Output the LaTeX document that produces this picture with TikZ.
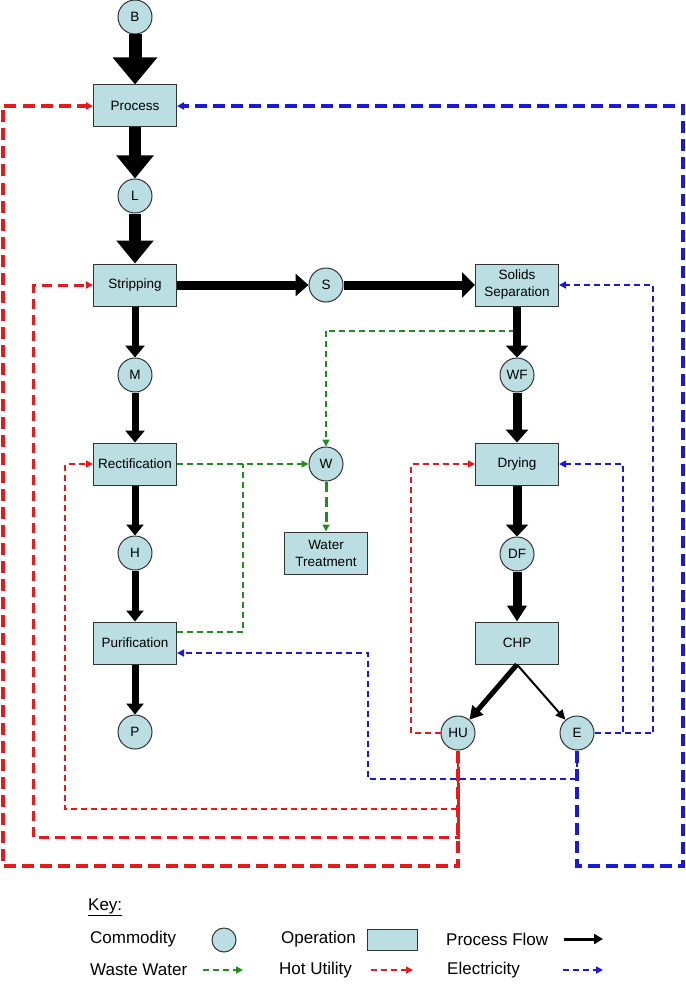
\documentclass[tikz,border=0pt]{standalone}
\usepackage{fontspec}
\setmainfont{Liberation Sans}
\usetikzlibrary{arrows.meta,calc}
\definecolor{nodefill}{RGB}{186,222,226}
\definecolor{hotred}{RGB}{228,26,28}
\definecolor{elblue}{RGB}{25,25,215}
\definecolor{wwgreen}{RGB}{34,139,34}
\newcommand{\nfnt}{\fontsize{13.5}{17}\selectfont}
\newcommand{\kfnt}{\fontsize{17}{20}\selectfont}
\tikzset{
  op/.style={draw=black!80, line width=1pt, fill=nodefill, minimum width=83pt, minimum height=42pt, inner sep=0pt, align=center, font=\nfnt},
  com/.style={circle, draw=black!80, line width=1pt, fill=nodefill, minimum size=34pt, inner sep=0pt, font=\nfnt},
  flow/.style n args={3}{draw=black, line width=#1pt, -{Triangle[length=#2pt,width=#3pt]}},
  dtip/.style={-{Triangle[length=7pt,width=7pt]}},
  hotthick/.style={draw=hotred, line width=3.5pt, dash pattern=on 12pt off 6pt},
  hotmed/.style={draw=hotred, line width=3pt, dash pattern=on 10pt off 6pt},
  hotthin/.style={draw=hotred, line width=1.6pt, dash pattern=on 6pt off 4pt},
  elthick/.style={draw=elblue, line width=3.5pt, dash pattern=on 12pt off 6pt},
  elthin/.style={draw=elblue, line width=1.6pt, dash pattern=on 6pt off 4pt},
  wwthin/.style={draw=wwgreen, line width=1.6pt, dash pattern=on 6pt off 4pt},
  wwthick/.style={draw=wwgreen, line width=3pt, dash pattern=on 10pt off 5pt},
  keytext/.style={anchor=west, inner sep=0pt, font=\kfnt},
}
\begin{document}
\begin{tikzpicture}[x=1pt,y=-1pt]
\useasboundingbox (0,0) rectangle (685,987);
% nodes
\node[com] (B) at (135,17) {B};
\node[op] (Process) at (135,106) {Process};
\node[com] (L) at (135,196) {L};
\node[op] (Strip) at (135,285) {Stripping};
\node[com] (S) at (326,285) {S};
\node[op] (Solids) at (517,285) {Solids\\Separation};
\node[com] (M) at (135,375) {M};
\node[com] (WF) at (517,375) {WF};
\node[op] (Rect) at (135,464) {Rectification};
\node[com] (W) at (326,464) {W};
\node[op] (Dry) at (517,464) {Drying};
\node[com] (H) at (135,553) {H};
\node[op] (WT) at (326,553) {Water\\Treatment};
\node[com] (DF) at (517,554) {DF};
\node[op] (Pur) at (135,643) {Purification};
\node[op] (CHP) at (517,643) {CHP};
\node[com] (P) at (135,732) {P};
\node[com] (HU) at (458,733) {HU};
\node[com] (E) at (577,733) {E};

% waste water
\draw[wwthin] ($(Solids.south)+(3,0)$) |- (326,331);
\draw[wwthin,dtip] (326,331) -- (W.north);
\draw[wwthin,dtip] (Rect.east) -- (W.west);
\draw[wwthin] ($(Pur.east)+(0,-11)$) -| (243,464);
\draw[wwthick,dtip] (W.south) -- (WT.north);

% hot utility
\draw[hotthick,dtip] (HU.south) |- (3,866) |- (Process.west);
\draw[hotmed,dtip] (HU.south) |- (33,837) |- (Strip.west);
\draw[hotthin,dtip] (HU.south) |- (65,809) |- (Rect.west);
\draw[hotthin,dtip] (HU.west) -- (411,733) |- (Dry.west);

% electricity
\draw[elthick,dtip] (E.south) |- (683,866) |- (Process.east);
\draw[elthin,dtip] (E.east) -- (623,733) |- (Dry.east);
\draw[elthin,dtip] (E.east) -- (653,733) |- (Solids.east);
\draw[elthin,dtip] (E.south) |- (368,779) |- ($(Pur.east)+(0,10)$);

% process flow
\draw[flow={13}{27}{43}] (B) -- (Process);
\draw[flow={12}{23}{36}] (Process) -- (L);
\draw[flow={12}{23}{36}] (L) -- (Strip);
\draw[flow={9}{13}{22}] (Strip) -- (S);
\draw[flow={9}{13}{25}] (S) -- (Solids);
\draw[flow={7}{12}{19}] (Strip) -- (M);
\draw[flow={7}{12}{19}] (M) -- (Rect);
\draw[flow={7}{11}{17}] (Rect) -- (H);
\draw[flow={7}{11}{17}] (H) -- (Pur);
\draw[flow={7}{11}{17}] (Pur) -- (P);
\draw[flow={8}{12}{22}] (Solids) -- (WF);
\draw[flow={9}{13}{22}] (WF) -- (Dry);
\draw[flow={9}{12}{22}] (Dry) -- (DF);
\draw[flow={9}{16}{19}] (DF) -- (CHP);
\draw[flow={5}{13}{14}] (CHP.south) -- (HU);
\draw[flow={2}{10}{9}] (CHP.south) -- (E);

% key
\node[keytext] (keyt) at (88,907) {\underline{Key:}};
\node[keytext] (kc) at (90,939) {Commodity};
\node[com, minimum size=24pt] (kcs) at (224,940) {};
\node[keytext] (ko) at (281,939) {Operation};
\node[op, minimum width=50pt, minimum height=21pt] (kos) at (392,940) {};
\node[keytext] (kp) at (446,939) {Process Flow};
\coordinate (kpa) at (564,939);
\coordinate (kpb) at (603,939);
\draw[draw=black, line width=3pt, -{Triangle[length=9pt,width=10pt]}] (kpa) -- (kpb);
\node[keytext] (kw) at (90,970) {Waste Water};
\coordinate (kwa) at (203,970);
\coordinate (kwb) at (243,970);
\draw[wwthin,dtip] (kwa) -- (kwb);
\node[keytext] (kh) at (279,970) {Hot Utility};
\coordinate (kha) at (371,970);
\coordinate (khb) at (413,970);
\draw[hotthin,dtip] (kha) -- (khb);
\node[keytext] (ke) at (447,970) {Electricity};
\coordinate (kea) at (563,970);
\coordinate (keb) at (603,970);
\draw[elthin,dtip] (kea) -- (keb);
\end{tikzpicture}
\end{document}
